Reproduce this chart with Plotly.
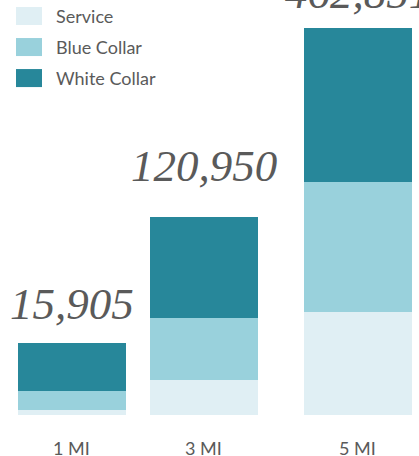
import math
import plotly.graph_objects as go

categories = ["1 MI", "3 MI", "5 MI"]
service = [1050, 21290, 122660]
blue_collar = [4215, 37980, 156440]
white_collar = [10640, 61680, 183751]
series_names = ["Service", "Blue Collar", "White Collar"]
series_colors = ["#E0EFF4", "#99D1DC", "#27879A"]

totals = [s + b + w for s, b, w in zip(service, blue_collar, white_collar)]
# bars are drawn on a square-root scale of the total, split by share
scale = [math.sqrt(t) / t for t in totals]

BAR_W = 0.755
PX_PER_UNIT = 143.0
nudge_px = [0, -11, 0]  # small horizontal nudges of each bar group (pixels)
offsets = [-BAR_W / 2 + n / PX_PER_UNIT for n in nudge_px]

fig = go.Figure()
for name, vals, col in zip(series_names, [service, blue_collar, white_collar], series_colors):
    fig.add_trace(go.Bar(
        x=categories,
        y=[v * k for v, k in zip(vals, scale)],
        name=name,
        marker=dict(color=col, line=dict(width=0)),
        width=BAR_W,
        offset=offsets,
        hoverinfo="skip",
        showlegend=False,
    ))

yshifts = [12, 24, 8]
for c, t, ys, n in zip(categories, totals, yshifts, nudge_px):
    fig.add_annotation(
        x=c, y=math.sqrt(t), xref="x", yref="y",
        text=f"{t:,}", showarrow=False, yanchor="bottom", yshift=ys, xshift=n,
        font=dict(family="Liberation Serif", size=45, color="#5a5a5a", style="italic"),
    )
    # category labels
    fig.add_annotation(
        x=c, y=0, xref="x", yref="paper", text=c, showarrow=False,
        yanchor="top", yshift=-20, xshift=n,
        font=dict(family="Lato", size=18, color="#5a5a5a"),
    )

# custom legend
for i, (name, col) in enumerate(zip(series_names, series_colors)):
    top = 7 + i * 31
    fig.add_shape(type="rect", xref="paper", yref="paper",
                  x0=16 / 419, x1=42 / 419,
                  y0=1 - (top + 18) / 414.7, y1=1 - top / 414.7,
                  fillcolor=col, line=dict(width=0), layer="above")
    fig.add_annotation(x=54 / 419, y=1 - (top + 9) / 414.7, xref="paper", yref="paper",
                       text=name, showarrow=False, xanchor="left", yanchor="middle",
                       font=dict(family="Lato", size=18, color="#5a5a5a"))

fig.update_layout(
    barmode="stack",
    width=419, height=456,
    margin=dict(l=0, r=0, t=0, b=41.3),
    paper_bgcolor="white", plot_bgcolor="white",
    bargap=0,
    xaxis=dict(range=[-0.503, 2.427], showgrid=False, zeroline=False, showline=False,
               ticks="", showticklabels=False),
    yaxis=dict(range=[0, 729.5], visible=False),
)
fig.write_html("out.html", config={"displayModeBar": False},
               post_script="document.body.style.margin='0';document.body.style.overflow='hidden';")
